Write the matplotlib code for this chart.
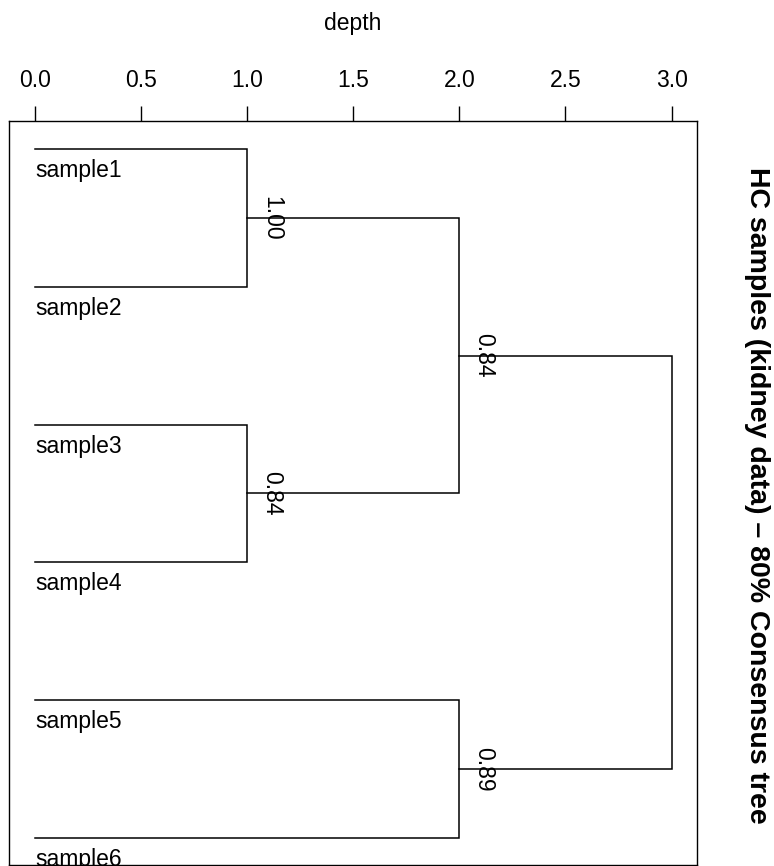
import matplotlib
matplotlib.use("Agg")
import matplotlib.pyplot as plt

plt.rcParams["font.family"] = ["Liberation Sans", "DejaVu Sans"]

# leaves, top to bottom
leaves = ["sample1", "sample2", "sample3", "sample4", "sample5", "sample6"]

# merges: node ids 0-5 are leaves, each merge makes a new id (6, 7, ...)
merge_left = [0, 2, 6, 4, 8]
merge_right = [1, 3, 7, 5, 9]
merge_depth = [1.0, 1.0, 2.0, 2.0, 3.0]
merge_support = ["1.00", "0.84", "0.84", "0.89", ""]

xticks = [0.0, 0.5, 1.0, 1.5, 2.0, 2.5, 3.0]
title = "HC samples (kidney data) \u2013 80% Consensus tree"

FS = 16.5

fig = plt.figure(figsize=(7.74, 8.66), dpi=100)
ax = fig.add_axes([9 / 774, 1 / 866, 688 / 774, 744 / 866])

pos_y = [i + 1.0 for i in range(len(leaves))]
pos_x = [0.0] * len(leaves)

for l, r, d, s in zip(merge_left, merge_right, merge_depth, merge_support):
    yl, yr = pos_y[l], pos_y[r]
    ax.plot([pos_x[l], d, d, pos_x[r]], [yl, yl, yr, yr],
            color="black", lw=1.1, solid_joinstyle="miter")
    ym = (yl + yr) / 2
    pos_y.append(ym)
    pos_x.append(d)
    if s:
        ax.text(d + 0.06, ym, s, rotation=-90, ha="left", va="center",
                fontsize=FS)

# leaf labels sit under their branch (last one runs off the bottom, as in R)
for i, name in enumerate(leaves):
    ax.text(0.0, pos_y[i] + 0.203, name, ha="left", va="baseline",
            fontsize=FS)

ax.set_xlim(-0.1225, 3.12)
ax.set_ylim(6.196, 0.797)

ax.xaxis.tick_top()
ax.xaxis.set_label_position("top")
ax.set_xticks(xticks)
ax.set_xticklabels([f"{t:.1f}" for t in xticks], fontsize=FS)
ax.tick_params(axis="x", length=10.8, width=1.0, pad=10, direction="out")
ax.set_yticks([])
ax.set_xlabel("depth", fontsize=FS, labelpad=28.5)
for sp in ax.spines.values():
    sp.set_linewidth(1.0)

fig.text(757 / 774, 1 - 495 / 866, title, rotation=-90, ha="center",
         va="center", fontsize=20.5, fontweight="bold")

fig.savefig("out.png", dpi=100)
